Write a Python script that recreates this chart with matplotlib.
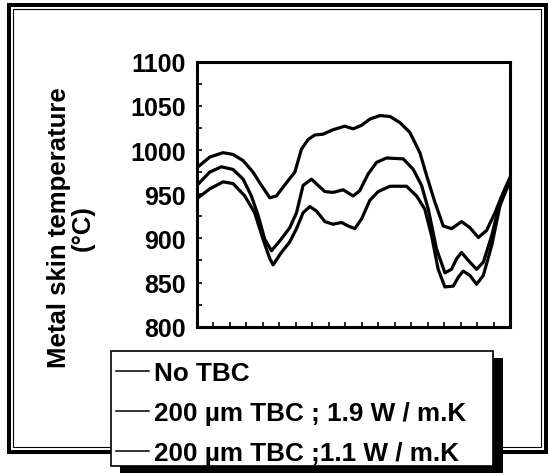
import matplotlib.pyplot as plt
from matplotlib.patches import Rectangle
from matplotlib.lines import Line2D
from matplotlib.ticker import MultipleLocator, NullFormatter

plt.rcParams['font.family'] = ['Liberation Sans', 'DejaVu Sans']
plt.rcParams['font.weight'] = 'bold'

# series (position along blade, skin temperature in °C)
x_no_tbc = [0, 0.77, 1.58, 2.19, 2.80, 3.40, 3.91, 4.42, 4.82, 5.43, 5.94, 6.34,
            6.75, 7.15, 7.66, 8.26, 8.97, 9.48, 9.99, 10.49, 11.10, 11.71, 12.32,
            12.92, 13.53, 13.94, 14.44, 14.95, 15.45, 16.06, 16.57, 17.08, 17.58,
            18.09, 18.59, 19.0]
t_no_tbc = [980, 992, 997, 995, 988, 975, 960, 946, 948, 963, 975, 1001,
            1012, 1017, 1018, 1023, 1027, 1024, 1028, 1035, 1039, 1038, 1031,
            1020, 997, 971, 941, 914, 911, 919, 912, 901, 909,
            929, 952, 969]

x_tbc19 = [0, 0.77, 1.48, 2.19, 2.80, 3.30, 3.71, 4.11, 4.52, 5.02, 5.63, 6.04,
           6.44, 6.95, 7.35, 7.76, 8.26, 8.87, 9.48, 9.88, 10.39, 10.90, 11.50,
           12.52, 13.13, 13.63, 14.04, 14.54, 15.05, 15.45, 15.76, 16.06, 16.47,
           16.97, 17.38, 17.89, 18.39, 19.0]
t_tbc19 = [960, 975, 981, 978, 967, 948, 926, 899, 886, 897, 912, 929,
           960, 967, 960, 953, 952, 955, 948, 954, 973, 986, 991,
           990, 978, 960, 933, 888, 861, 865, 877, 884, 875,
           865, 873, 903, 941, 967]

x_tbc11 = [0, 0.77, 1.58, 2.19, 2.90, 3.50, 4.01, 4.42, 4.62, 5.12, 5.63, 6.04,
           6.44, 6.85, 7.25, 7.76, 8.26, 8.77, 9.18, 9.58, 9.99, 10.49, 11.00,
           11.71, 12.72, 13.33, 13.83, 14.24, 14.64, 15.05, 15.56, 15.86, 16.16,
           16.57, 16.97, 17.38, 17.89, 18.39, 19.0]
t_tbc11 = [945, 956, 964, 962, 948, 929, 899, 877, 870, 884, 896, 911,
           929, 936, 931, 919, 916, 918, 914, 911, 922, 943, 953,
           959, 959, 948, 933, 903, 865, 845, 846, 856, 863,
           858, 848, 858, 892, 937, 965]

labels = ['No TBC', '200 µm TBC ; 1.9 W / m.K', '200 µm TBC ;1.1 W / m.K']

W, H = 550, 477
fig = plt.figure(figsize=(W / 100, H / 100), dpi=100)


def box(x0, y0, x1, y1, **kw):
    # rectangle given in pixel coords from the top-left corner
    return Rectangle((x0 / W, 1 - y1 / H), (x1 - x0) / W, (y1 - y0) / H,
                     transform=fig.transFigure, figure=fig, **kw)


# double frame around the whole picture
fig.patches.append(box(9, 5.5, 545.5, 452.5, fill=False, lw=2.9, ec='black'))
fig.patches.append(box(13, 10, 541, 448, fill=False, lw=0.8, ec='black'))

ax = fig.add_axes([197 / W, 1 - 327.7 / H, 313 / W, 265 / H])
for xs, ts in [(x_no_tbc, t_no_tbc), (x_tbc19, t_tbc19), (x_tbc11, t_tbc11)]:
    ax.plot(xs, ts, color='black', lw=2.3, solid_joinstyle='round')

ax.set_xlim(0, 19)
ax.set_ylim(800, 1100)
ax.xaxis.set_major_locator(MultipleLocator(1))
ax.xaxis.set_major_formatter(NullFormatter())
ax.yaxis.set_major_locator(MultipleLocator(50))
ax.yaxis.set_minor_locator(MultipleLocator(25))
ax.tick_params(axis='both', which='both', direction='in', length=3.5, width=1.2,
               top=False, right=False)
ax.tick_params(axis='y', labelsize=18, pad=8)
for lab in ax.get_yticklabels():
    lab.set_fontweight('bold')
for s in ax.spines.values():
    s.set_linewidth(2.2)

fig.text(71 / W, 1 - 228 / H, 'Metal skin temperature\n(°C)', rotation=90,
         ha='center', va='center', fontsize=18.5, fontweight='bold',
         multialignment='center', linespacing=1.0)

# legend box with a solid black drop shadow
fig.patches.append(box(120, 359, 503, 474, fc='black', ec='black', lw=0, zorder=5))
fig.patches.append(box(111, 352, 493, 467, fc='white', ec='black', lw=1.2, zorder=6))
handles = [Line2D([], [], color='black', lw=1.1) for _ in labels]
leg = fig.legend(handles, labels, loc='upper left',
                 bbox_to_anchor=(116 / W, 1 - 362 / H), frameon=False,
                 fontsize=18.8, handlelength=1.25, handletextpad=0.2,
                 labelspacing=0.62, borderpad=0, borderaxespad=0)
leg.set_zorder(7)
for t in leg.get_texts():
    t.set_fontweight('bold')

fig.savefig('out.png', dpi=100)
